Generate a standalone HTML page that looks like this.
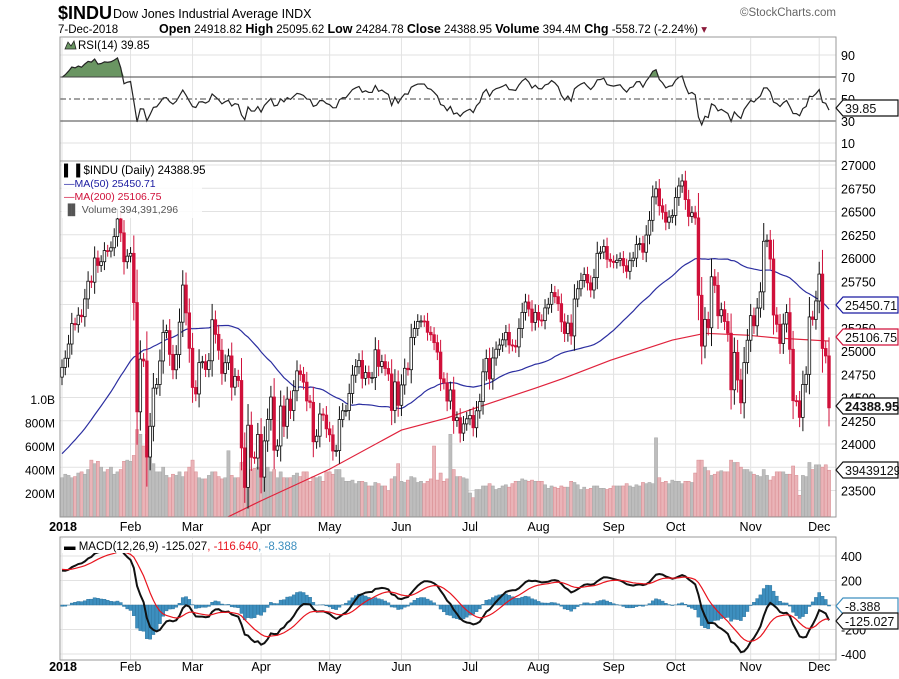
<!DOCTYPE html>
<html><head><meta charset="utf-8"><style>
body{margin:0;background:#fff;}
svg{display:block;font-family:"Liberation Sans",sans-serif;}
</style></head><body>
<svg id="c" width="899" height="679" viewBox="0 0 899 679">
<g>
<text x="58" y="19" font-size="18" font-weight="bold">$INDU</text>
<text x="113" y="18" font-size="12.5">Dow Jones Industrial Average INDX</text>
<text x="58" y="33" font-size="11.5">7-Dec-2018</text>
<text x="159" y="33" font-size="11.5"><tspan font-weight="bold" font-size="12.5">Open</tspan> 24918.82 <tspan font-weight="bold" font-size="12.5"> High</tspan> 25095.62 <tspan font-weight="bold" font-size="12.5"> Low</tspan> 24284.78 <tspan font-weight="bold" font-size="12.5"> Close</tspan> 24388.95 <tspan font-weight="bold" font-size="12.5"> Volume</tspan> 394.4M <tspan font-weight="bold" font-size="12.5"> Chg</tspan> -558.72 (-2.24%) <tspan fill="#8b1a3a">▾</tspan></text>
<text x="836" y="16" font-size="11.5" fill="#666" text-anchor="end">©StockCharts.com</text>
</g>
<g id="grid"></g>
<g id="vol"></g>
<g id="price"></g>
<g id="rsi"></g>
<g id="macd"></g>
<g id="axes"></g>
<g id="tags"></g>
</svg>
<script>
const priorCloses=[23163,23164,23329,23273,23441,23329,23400,23434,23348,23377,23435,23516,23539,23548,23557,23563,23461,23422,23439,23410,23271,23358,23458,23432,23358,23590,23526,23557,23580,23837,23940,24272,24231,24290,24180,24141,24211,24386,24504,24586,24652,24508,24792,24754,24726,24782,24746,24774,24838,24719];
const closes=[24824,24922,25075,25295,25283,25385,25369,25560,25750,25740,26000,25920,25960,26080,26075,26110,26230,26420,26270,25960,26020,
26050,25521,24346,24913,24893,23860,24191,24601,24640,24893,25200,25219,24964,24798,24962,25310,25709,25410,25029,
24608,24538,24875,24885,24801,24895,25336,25179,25008,24759,24874,24947,24611,24727,24683,23958,23533,24202,23857,23849,24103,
23644,24033,24264,24505,23933,23979,24408,24190,24483,24360,24573,24786,24748,24665,24463,24448,24024,24084,24322,24311,24163,
24099,23925,23930,24263,24357,24361,24543,24740,24831,24899,24706,24769,24714,24715,25013,24834,24886,24812,24753,24361,24668,24416,
24635,24814,24799,25146,25241,25317,25323,25320,25201,25175,25090,24988,24701,24657,24462,24581,24252,24283,24117,24216,24271,
24307,24175,24357,24456,24776,24920,24700,24925,25019,25064,25120,25200,25065,25058,25044,25242,25415,25527,25451,25307,25415,
25333,25327,25463,25502,25629,25584,25509,25313,25188,25300,25162,25559,25669,25759,25823,25733,25656,25790,26050,26064,26124,25986,25965,
25952,25975,25995,25917,25857,25971,25999,26145,26155,26062,26247,26405,26657,26744,26562,26492,26385,26440,26458,
26651,26774,26828,26628,26447,26487,26431,25599,25053,25340,25250,25798,25706,25379,25444,25317,25191,24583,24985,24688,24443,24875,25116,
25380,25271,25462,25636,26180,26191,25989,25387,25287,25081,25290,25413,25018,24466,24465,24286,24640,24749,25366,25339,25538,
25827,25027,24947,24389];
const volumes=[330,360,350,330,340,370,380,360,400,480,450,470,420,380,400,420,360,380,400,470,480,
470,520,740,700,600,700,640,450,380,380,420,350,330,360,350,380,340,380,420,
480,380,330,320,320,350,380,380,340,320,330,560,350,330,330,460,470,370,400,410,420,
380,400,420,380,400,330,380,330,330,330,350,370,340,380,380,300,340,330,340,300,380,
380,360,400,400,330,300,300,310,280,300,300,290,260,260,290,280,260,260,220,320,340,450,
300,290,310,340,330,290,300,280,300,320,600,310,370,300,320,700,400,340,340,330,320,
200,160,230,230,260,260,280,260,230,240,260,270,250,280,300,300,320,310,300,310,300,
300,300,270,240,260,250,240,260,250,250,300,290,270,230,250,230,240,260,260,240,240,230,240,
260,260,260,260,280,260,250,270,260,290,280,290,280,670,330,290,300,280,310,
300,300,280,300,300,290,370,480,480,420,390,350,360,380,390,380,380,480,460,460,420,400,400,
380,360,350,340,400,350,310,340,380,380,380,360,360,430,350,180,350,340,460,400,440,
440,420,440,394];
const ma200Idx=[47,61,82,104,118,127,145,154,168,187,197,210,219,235];
const ma200Val=[23150,23390,23730,24150,24280,24390,24600,24710,24900,25118,25190,25170,25140,25107];
const monthLabels=["2018","Feb","Mar","Apr","May","Jun","Jul","Aug","Sep","Oct","Nov","Dec"];
const monthStartIdx=[0,21,40,61,82,104,125,146,169,188,211,232];
const priceTicks=[27000,26750,26500,26250,26000,25750,25500,25250,25000,24750,24500,24250,24000,23500];
const volTicks=[1000,800,600,400,200];
const volTickLabels=["1.0B","800M","600M","400M","200M"];
const rsiTicks=[90,70,50,30,10];
const macdTicks=[400,200,-200,-400];

const NS="http://www.w3.org/2000/svg";
const L=60,R=836;
const n=Math.min(closes.length,volumes.length);
const xs=i=>62+i*(829-62)/(closes.length-1);
const py=p=>165+(27000-p)*0.093;
const vy=v=>516.5-v*0.1175;
const ry=r=>99-(r-50)*1.1;
const my=m=>605-m*0.1225;
function mk(parent,tag,attrs,txt){const e=document.createElementNS(NS,tag);for(const k in attrs)e.setAttribute(k,attrs[k]);if(txt!==undefined)e.textContent=txt;parent.appendChild(e);return e;}
const G=id=>document.getElementById(id);
const svg=G('c');

// clip paths
const defs=mk(svg,'defs',{});
const cp1=mk(defs,'clipPath',{id:'cpPrice'});mk(cp1,'rect',{x:L,y:162,width:R-L,height:355});
const cp2=mk(defs,'clipPath',{id:'cpRsi'});mk(cp2,'rect',{x:L,y:38,width:R-L,height:123});
const cp3=mk(defs,'clipPath',{id:'cpMacd'});mk(cp3,'rect',{x:L,y:538,width:R-L,height:122});

// gridlines
const grid=G('grid');
for(const p of priceTicks.concat([23750])){const l=mk(grid,'line',{x1:L,x2:R,y1:py(p),y2:py(p),stroke:'#e2e2e2','stroke-width':1});
}
for(const r of rsiTicks){if(r===70||r===30||r===50)continue;const l=mk(grid,'line',{x1:L,x2:R,y1:ry(r),y2:ry(r),stroke:'#e2e2e2'});
}
for(const m of macdTicks.concat([0])){const l=mk(grid,'line',{x1:L,x2:R,y1:my(m),y2:my(m),stroke:'#e2e2e2'});
}
monthStartIdx.forEach((mi,k)=>{const x=xs(mi);
 for(const [a,b] of [[38,161],[162,517],[538,660]]){const l=mk(grid,'line',{x1:x,x2:x,y1:a,y2:b,stroke:'#e2e2e2'});
 }
});

// volume
const vg=G('vol');
for(let i=0;i<n;i++){const prev=i?closes[i-1]:priorCloses[priorCloses.length-1];const down=closes[i]<prev;
 const r=mk(vg,'rect',{x:xs(i)-1.6,y:vy(volumes[i]),width:3.2,height:516.5-vy(volumes[i]),fill:down?'#eab4b8':'#bdbdbd',stroke:down?'#d88a90':'#a8a8a8','stroke-width':0.5});
 }

// MAs
const all=priorCloses.concat(closes);const off=priorCloses.length;
const ma50=closes.map((c,i)=>{let s=0;for(let k=off+i-49;k<=off+i;k++)s+=all[k];return s/50;});
const pg=G('price');pg.setAttribute('clip-path','url(#cpPrice)');
const p50=mk(pg,'polyline',{points:ma50.map((v,i)=>xs(i)+','+py(v)).join(' '),fill:'none',stroke:'#2b2ea0','stroke-width':1.2});

const p200=mk(pg,'polyline',{points:ma200Idx.map((ix,k)=>xs(ix)+','+py(ma200Val[k])).join(' '),fill:'none',stroke:'#e0223c','stroke-width':1.2});


// candles
for(let i=0;i<closes.length;i++){const o=i?closes[i-1]:priorCloses[off-1];const c=closes[i];const up=c>=o;
 const col=up?'#111':'#d0103a';const k=60+0.25*Math.abs(c-o);
 const hi=Math.max(o,c)+k,lo=Math.min(o,c)-k;const x=xs(i);
 const w=mk(pg,'line',{x1:x,x2:x,y1:py(hi),y2:py(lo),stroke:col,'stroke-width':1});
 
 const top=py(Math.max(o,c)),h=Math.max(1,Math.abs(py(o)-py(c)));
 const b=mk(pg,'rect',{x:x-1.3,y:top,width:2.6,height:h,fill:up?'#fff':col,stroke:col,'stroke-width':0.8});
 }

// RSI
const rs=G('rsi');
let ag=0,al=0;const rsiVals=[];
for(let k=1;k<all.length;k++){const d=all[k]-all[k-1];const g=Math.max(d,0),l=Math.max(-d,0);
 if(k<=14){ag+=g/14;al+=l/14;}else{ag=(ag*13+g)/14;al=(al*13+l)/14;}
 if(k>=off)rsiVals.push(al===0?100:100-100/(1+ag/al));}
const rc=mk(rs,'g',{'clip-path':'url(#cpRsi)'});
const fillPts=rsiVals.map((v,i)=>xs(i)+','+ry(Math.max(v,70))).join(' ');
const rf=mk(rc,'polygon',{points:xs(0)+','+ry(70)+' '+fillPts+' '+xs(rsiVals.length-1)+','+ry(70),fill:'#6a9562',stroke:'none'});

for(const [v,d] of [[70,''],[30,''],[50,'6,3,2,3']]){const l=mk(rs,'line',{x1:L,x2:R,y1:ry(v),y2:ry(v),stroke:'#444','stroke-width':1,'stroke-dasharray':d});
 }
const rl=mk(rc,'polyline',{points:rsiVals.map((v,i)=>xs(i)+','+ry(v)).join(' '),fill:'none',stroke:'#222','stroke-width':1.2});

mk(rs,'rect',{x:64,y:39,width:115,height:12,fill:'#fff','fill-opacity':0});
const rt=mk(rs,'text',{x:78,y:49,'font-size':11.5},'RSI(14) 39.85');

const ri=mk(rs,'path',{d:'M65 49 L68 42 L71 46 L74 41 L76 49 Z',fill:'#6a9562',stroke:'#222','stroke-width':0.8});


// MACD
function ema(arr,p){const a=2/(p+1);const out=[];let e=arr[0];for(const v of arr){e=v*a+e*(1-a);out.push(e);}return out;}
const e12=ema(all,12),e26=ema(all,26);const macdAll=all.map((v,i)=>e12[i]-e26[i]);const sigAll=ema(macdAll,9);
const macdVals=macdAll.slice(off),sigVals=sigAll.slice(off),histVals=macdVals.map((v,i)=>v-sigVals[i]);
const mg=G('macd');const mc=mk(mg,'g',{'clip-path':'url(#cpMacd)'});
histVals.forEach((h,i)=>{const y0=my(0),y1=my(h);const r=mk(mc,'rect',{x:xs(i)-1.6,y:Math.min(y0,y1),width:3.2,height:Math.abs(y1-y0),fill:'#3d8fbf',stroke:'#2a6f99','stroke-width':0.4});
 });
const ml=mk(mc,'polyline',{points:macdVals.map((v,i)=>xs(i)+','+my(v)).join(' '),fill:'none',stroke:'#111','stroke-width':2});

const sl=mk(mc,'polyline',{points:sigVals.map((v,i)=>xs(i)+','+my(v)).join(' '),fill:'none',stroke:'#e8141e','stroke-width':1.2});

mk(mg,'rect',{x:62,y:539,width:335,height:14,fill:'#fff'});
const mt=mk(mg,'text',{x:64,y:550,'font-size':11.5});
mk(mt,'tspan',{'font-weight':'bold'},'▬ ');mk(mt,'tspan',{},'MACD(12,26,9) -125.027');mk(mt,'tspan',{fill:'#e8141e'},', -116.640');mk(mt,'tspan',{fill:'#3d8fbf'},', -8.388');

// price legend
const pl=mk(pg.parentNode,'g',{});
mk(pl,'rect',{x:62,y:163,width:140,height:55,fill:'#fff','fill-opacity':0.85});
mk(pl,'text',{x:64,y:174,'font-size':11.5},'\u258c\u2590 $INDU (Daily) 24388.95');
mk(pl,'text',{x:64,y:187,'font-size':10.5,fill:'#1a1aa0'},'\u2014MA(50) 25450.71');
mk(pl,'text',{x:64,y:200,'font-size':10.5,fill:'#d0103a'},'\u2014MA(200) 25106.75');
mk(pl,'text',{x:64,y:213,'font-size':10.5,fill:'#555'},'\u2590\u258c Volume 394,391,296');

// axes
const ax=G('axes');
for(const [a,b] of [[37,161],[161,517],[537,660]]){const r=mk(ax,'rect',{x:L,y:a,width:R-L,height:b-a,fill:'none',stroke:'#999','stroke-width':1});
 }
priceTicks.forEach(p=>{const t=mk(ax,'text',{x:841,y:py(p)+5,'font-size':12.5},String(p));});
volTicks.forEach((v,k)=>{const t=mk(ax,'text',{x:55,y:vy(v)+5,'font-size':12,'text-anchor':'end'},volTickLabels[k]);});
rsiTicks.forEach(r=>{const t=mk(ax,'text',{x:841,y:ry(r)+5,'font-size':12.5},String(r));});
macdTicks.forEach(m=>{const t=mk(ax,'text',{x:841,y:my(m)+5,'font-size':12.5},String(m));});
monthStartIdx.forEach((mi,k)=>{for(const y of [531,671]){const t=mk(ax,'text',{x:xs(mi)+(k===0?1:0),y:y,'font-size':12.5,'text-anchor':'middle','font-weight':k===0?'bold':'normal'},monthLabels[k]);
 }});

// tags
const tg=G('tags');
function tag(y,txt,col,bold,fill){const g=mk(tg,'g',{});
 mk(g,'path',{d:`M836 ${y} L843 ${y-8} L898 ${y-8} L898 ${y+8} L843 ${y+8} Z`,fill:fill||'#fff',stroke:col,'stroke-width':1.2});
 mk(g,'text',{x:845,y:y+5,'font-size':bold?13:12.5,'font-weight':bold?'bold':'normal',fill:'#111'},txt);return g;}
let t;
t=tag(305,'25450.71','#1a1aa0');
t=tag(337,'25106.75','#d0103a');
t=tag(406,'24388.95','#111',true);
t=tag(470,'39439129','#111');
t=tag(108,'39.85','#111');
t=tag(606,'-8.388','#3d8fbf');
t=tag(621,'-125.027','#111');
</script>
</body></html>
